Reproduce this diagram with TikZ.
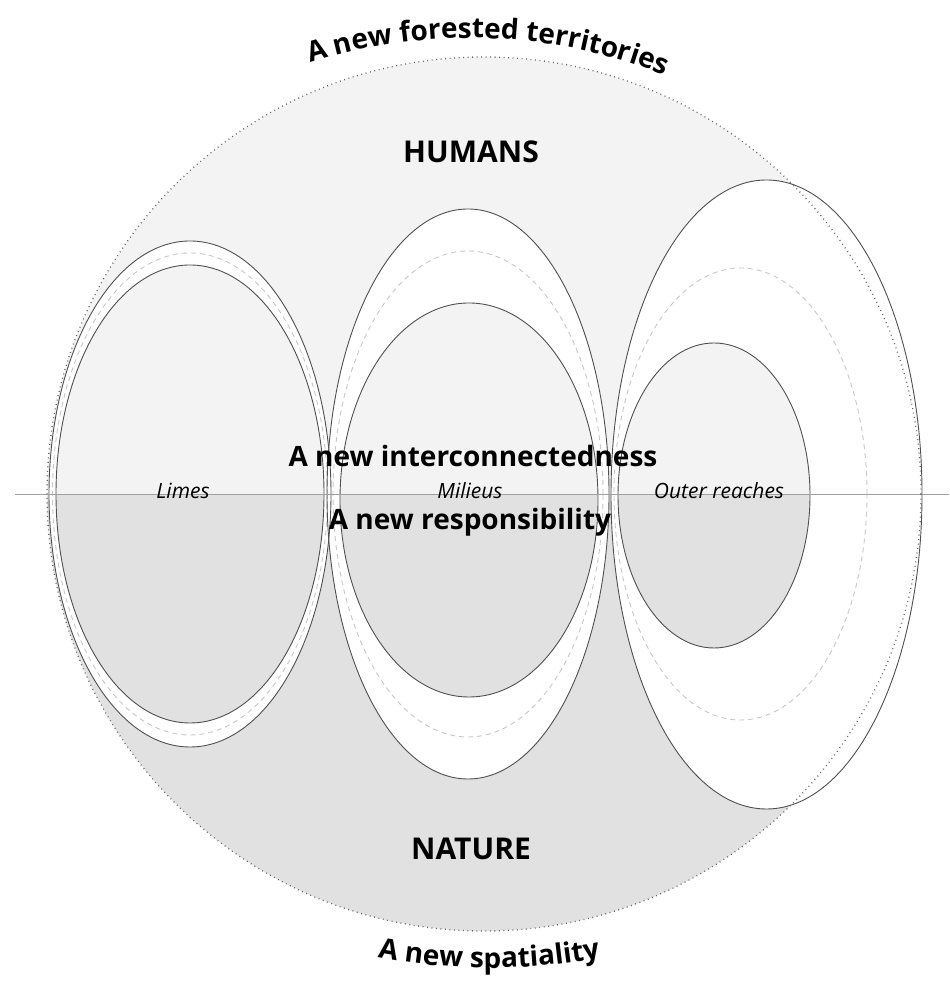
\documentclass[tikz,border=0pt]{standalone}
\usepackage{fontspec}
\newfontfamily\labelfont{Open Sans}
\usetikzlibrary{decorations.text}
\definecolor{humanfill}{HTML}{F3F3F3}
\definecolor{naturefill}{HTML}{E1E1E1}
\definecolor{outlinecol}{HTML}{505050}
\definecolor{dashcol}{HTML}{C8C8C8}
\definecolor{dotcol}{HTML}{666666}
\definecolor{axiscol}{HTML}{A0A0A0}
\tikzset{
  outline/.style={draw=outlinecol, line width=0.9pt},
  dashline/.style={draw=dashcol, line width=0.9pt, dash pattern=on 5pt off 4pt},
  dotline/.style={draw=dotcol, line width=1.3pt, dash pattern=on 0.9pt off 3.6pt},
  biglabel/.style={font=\labelfont\bfseries\fontsize{28}{30}\selectfont, inner sep=0pt, anchor=base},
  polelabel/.style={font=\labelfont\bfseries\fontsize{30}{32}\selectfont, inner sep=0pt},
  zonelabel/.style={font=\labelfont\itshape\fontsize{21}{23}\selectfont, inner sep=0pt, anchor=base},
}
\begin{document}
\begin{tikzpicture}[x=1pt,y=1pt]
\useasboundingbox (0,0) rectangle (949,981);
% circle halves
\fill[humanfill] (47,487) arc[start angle=180,end angle=0,radius=437] -- cycle;
\fill[naturefill] (47,487) arc[start angle=180,end angle=360,radius=437] -- cycle;
% outer white fills
\fill[white] (190,487) ellipse [x radius=141, y radius=253];
\fill[white] (468,487) ellipse [x radius=141, y radius=285];
\fill[white] (766.5,486.5) ellipse [x radius=155.5, y radius=314.5];
% inner fills
\begin{scope}
  \clip (190,487) ellipse [x radius=134, y radius=229];
  \fill[humanfill] (0,487) rectangle (949,981);
  \fill[naturefill] (0,0) rectangle (949,487);
\end{scope}
\begin{scope}
  \clip (469,481) ellipse [x radius=129, y radius=197];
  \fill[humanfill] (0,487) rectangle (949,981);
  \fill[naturefill] (0,0) rectangle (949,487);
\end{scope}
\begin{scope}
  \clip (714,485.5) ellipse [x radius=96, y radius=152.5];
  \fill[humanfill] (0,487) rectangle (949,981);
  \fill[naturefill] (0,0) rectangle (949,487);
\end{scope}
% dashed rings
\draw[dashline] (190,487) ellipse [x radius=137.5, y radius=241];
\draw[dashline] (468,487) ellipse [x radius=135, y radius=243];
\draw[dashline] (740.5,487) ellipse [x radius=126.5, y radius=226];
% outlines
\draw[outline] (190,487) ellipse [x radius=141, y radius=253];
\draw[outline] (190,487) ellipse [x radius=134, y radius=229];
\draw[outline] (468,487) ellipse [x radius=141, y radius=285];
\draw[outline] (469,481) ellipse [x radius=129, y radius=197];
\draw[outline] (766.5,486.5) ellipse [x radius=155.5, y radius=314.5];
\draw[outline] (714,485.5) ellipse [x radius=96, y radius=152.5];
% axis
\coordinate (axisL) at (15,487);
\coordinate (axisR) at (949,487);
\draw[axiscol, line width=0.8pt] (axisL) -- (axisR);
% dotted circle
\draw[dotline] (484,487) circle[radius=437];
% labels
\node[polelabel] (humans) at (471,829) {HUMANS};
\node[polelabel] (nature) at (471,132.5) {NATURE};
\node[biglabel] (interc) at (473,514) {A new interconnectedness};
\node[biglabel] (respons) at (470,451) {A new responsibility};
\node[zonelabel] (limes) at (183,482) {Limes};
\node[zonelabel] (milieus) at (470,482) {Milieus};
\node[zonelabel] (outer) at (719,482) {Outer reaches};
% arc texts
\path[decorate, decoration={text along path, text align=center,
  text={|\labelfont\bfseries\fontsize{28}{30}\selectfont|A new forested territories}}]
  (470,418) ++(128:525) arc[start angle=128, end angle=48, radius=525];
\path[decorate, decoration={text along path, text align=center,
  text={|\labelfont\bfseries\fontsize{28}{30}\selectfont|A new spatiality}}]
  (489,613) ++(255:600) arc[start angle=255, end angle=285, radius=600];
\end{tikzpicture}
\end{document}
